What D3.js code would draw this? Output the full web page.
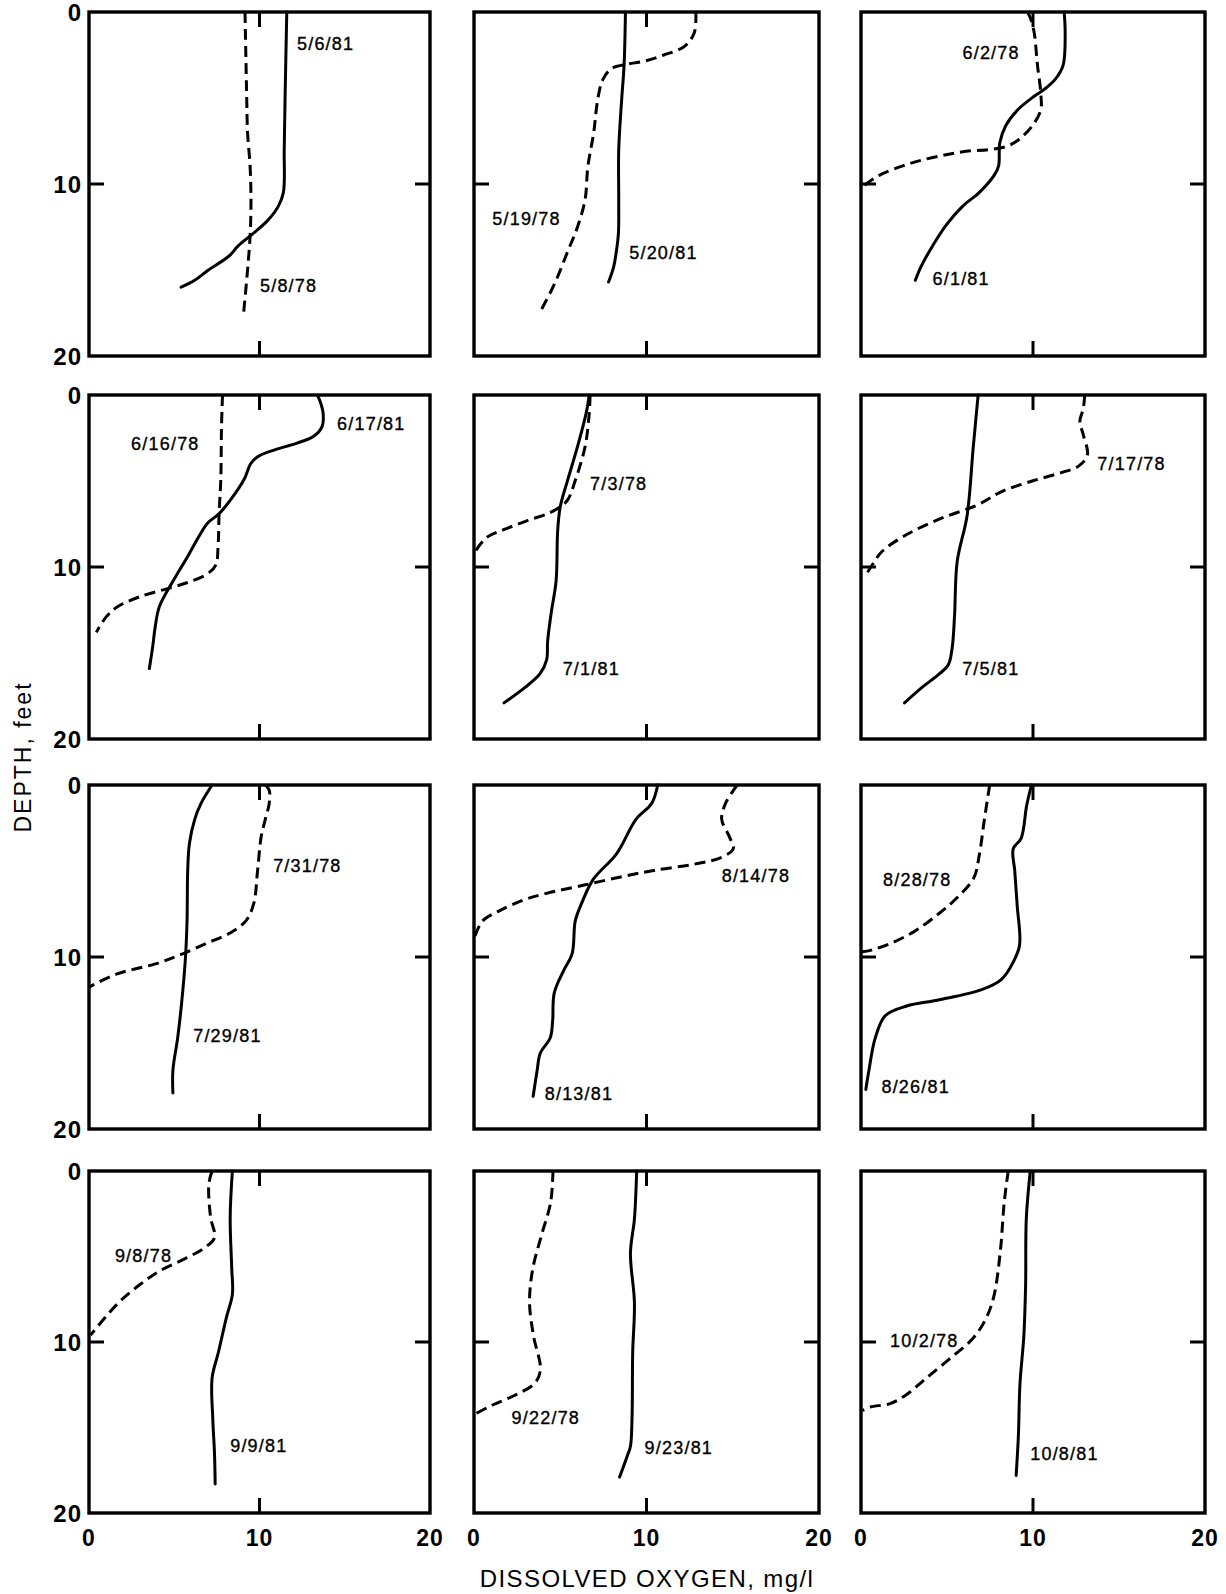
<!DOCTYPE html>
<html>
<head>
<meta charset="utf-8">
<script src="https://cdn.jsdelivr.net/npm/d3@7"></script>
<style>
  html, body { margin: 0; padding: 0; background: #fff; }
  svg { display: block; }
  text { font-family: "Liberation Sans", Arial, Helvetica, sans-serif; fill: #000; }
</style>
</head>
<body>
<svg id="chart" width="1226" height="1594"></svg>
<script>
// ---------------- DATA ----------------
const oxygenTicks = [0, 10, 20];   // mg/l
const depthTicks = [0, 10, 20];    // feet

// Panel order: row by row, left to right
const solidDates = ["5/6/81", "5/20/81", "6/1/81", "6/17/81", "7/1/81", "7/5/81",
                    "7/29/81", "8/13/81", "8/26/81", "9/9/81", "9/23/81", "10/8/81"];
const dashedDates = ["5/8/78", "5/19/78", "6/2/78", "6/16/78", "7/3/78", "7/17/78",
                     "7/31/78", "8/14/78", "8/28/78", "9/8/78", "9/22/78", "10/2/78"];

// profiles: [dissolved oxygen mg/l, depth ft]
const solidProfiles = [
  [[11.6,0],[11.5,5],[11.45,8],[11.4,10.5],[11.1,11.3],[10.5,12.1],[9.6,12.9],[8.75,13.6],[8.2,14.2],[7.0,15.0],[6.2,15.6],[5.4,16.0]],
  [[8.78,0],[8.7,3.1],[8.56,5.1],[8.39,8],[8.39,10.9],[8.37,12.9],[8.24,14.0],[8.1,14.8],[7.8,15.7]],
  [[11.81,0],[11.87,1.2],[11.75,3.1],[11.3,3.9],[10.65,4.5],[10.07,4.9],[9.1,5.7],[8.42,6.6],[8.07,7.6],[8.0,8.95],[7.74,9.5],[6.87,10.5],[5.9,11.3],[4.94,12.4],[4.16,13.6],[3.49,14.8],[3.16,15.6]],
  [[13.38,0],[13.53,0.3],[13.73,1.06],[13.67,1.84],[13.18,2.4],[12.2,2.8],[10.85,3.2],[9.87,3.6],[9.48,4.0],[9.1,4.9],[8.3,6.1],[7.63,6.9],[6.95,7.45],[6.46,8.2],[5.78,9.4],[5.0,10.7],[4.13,12.3],[3.88,13.5],[3.74,14.6],[3.54,15.9]],
  [[6.68,0],[6.5,1.07],[6.0,3.0],[5.43,4.95],[5.0,6.5],[4.85,7.9],[4.76,10.8],[4.47,12.7],[4.27,14.3],[4.21,15.4],[3.83,16.2],[2.96,17.0],[1.74,17.9]],
  [[6.81,0],[6.52,3.1],[6.17,7.0],[5.59,9.7],[5.44,12.8],[5.3,14.7],[5.07,15.7],[4.57,16.2],[3.55,17.0],[2.53,17.9]],
  [[7.22,0],[6.57,1.07],[6.2,2.0],[5.89,3.4],[5.79,4.95],[5.75,7.9],[5.66,10.0],[5.43,12.7],[5.2,14.7],[4.92,16.6],[4.92,17.9]],
  [[10.65,0],[10.3,1.07],[9.39,2.0],[8.26,4.0],[6.9,5.5],[6.23,6.9],[5.87,7.9],[5.69,9.8],[5.19,10.8],[4.65,12.1],[4.56,13.7],[4.42,14.7],[3.84,15.6],[3.66,16.6],[3.43,18.1]],
  [[9.91,0],[9.63,1.2],[9.31,3.1],[8.85,3.7],[8.94,5.0],[9.08,7.0],[9.22,9.3],[8.85,10.3],[8.17,11.3],[7.02,11.9],[4.5,12.5],[2.66,12.85],[1.42,13.4],[0.83,14.7],[0.46,16.6],[0.28,17.7]],
  [[8.41,0],[8.28,2.7],[8.37,5.66],[8.41,7.2],[8.05,8.6],[7.59,10.6],[7.22,12.1],[7.26,14.5],[7.36,16.5],[7.4,18.3]],
  [[9.43,0],[9.3,2.8],[9.07,4.8],[9.3,7.7],[9.2,10.6],[9.16,14.5],[9.07,16.1],[8.89,16.65],[8.44,17.9]],
  [[9.84,0],[9.61,2.8],[9.57,6.7],[9.47,9.6],[9.24,12.5],[9.15,15.5],[9.02,17.8]]
];
const dashedProfiles = [
  [[9.15,0],[9.25,5],[9.3,7],[9.45,9],[9.5,11],[9.45,13],[9.3,15],[9.05,17.7]],
  [[12.86,0],[12.77,1.2],[12.2,2.0],[11.0,2.5],[9.9,2.85],[8.8,3.05],[7.95,3.3],[7.46,3.95],[7.17,5.1],[6.94,7.0],[6.6,9.0],[6.44,10.9],[6.0,12.5],[5.44,13.9],[4.67,15.8],[3.8,17.5]],
  [[9.68,0],[9.87,0.4],[10.07,1.2],[10.26,3.1],[10.45,4.7],[10.45,5.7],[9.97,6.6],[9.2,7.4],[8.52,7.8],[7.45,8.0],[6.1,8.1],[4.94,8.3],[3.58,8.6],[2.42,8.95],[1.06,9.5],[0.19,10.1],[0,10.3]],
  [[7.83,0],[7.77,1.9],[7.73,4.9],[7.63,6.9],[7.57,8.8],[7.44,9.87],[6.95,10.4],[5.78,10.9],[4.81,11.2],[3.06,11.7],[1.69,12.3],[1.01,12.9],[0.43,13.8]],
  [[6.73,0],[6.68,1.07],[6.44,3.0],[5.86,5.0],[5.43,6.1],[5.0,6.5],[4.27,6.9],[3.1,7.3],[1.8,7.8],[0.78,8.25],[0.12,9.03],[0,9.3]],
  [[13.01,0],[12.92,0.8],[12.72,1.55],[12.92,2.3],[13.16,3.5],[12.63,4.15],[11.7,4.5],[9.96,5.0],[8.21,5.6],[6.75,6.4],[4.72,7.15],[2.68,8.1],[1.22,9.1],[0.64,9.9],[0.2,10.6]],
  [[10.34,0],[10.57,0.3],[10.57,1.07],[10.34,2.0],[10.1,3.0],[9.89,4.95],[9.66,6.9],[9.2,7.9],[8.28,8.6],[6.9,9.2],[5.29,9.9],[3.9,10.4],[1.6,11.0],[0,11.75]],
  [[15.26,0],[14.58,1.07],[14.36,2.0],[14.8,3.0],[15.03,3.7],[14.36,4.2],[12.78,4.6],[10.52,4.95],[8.71,5.3],[6.46,5.8],[4.2,6.3],[2.84,6.7],[1.49,7.3],[0.5,7.9],[0.05,8.8]],
  [[7.48,0],[7.16,2.1],[6.88,4.06],[6.56,5.4],[5.64,6.5],[4.5,7.5],[3.12,8.5],[1.74,9.2],[0.6,9.6],[0.05,9.7]],
  [[7.22,0],[7.03,0.75],[7.13,2.7],[7.36,3.9],[6.76,4.5],[5.75,5.07],[4.14,5.85],[2.99,6.64],[1.84,7.6],[0.92,8.6],[0.09,9.6]],
  [[4.58,0],[4.44,1.85],[3.9,3.8],[3.4,5.75],[3.22,7.7],[3.45,9.64],[3.85,11.6],[3.54,12.4],[2.4,13.1],[1.04,13.7],[0.09,14.2]],
  [[8.56,0],[8.33,1.8],[8.1,4.7],[7.73,7.3],[7.28,8.6],[6.5,9.8],[5.13,11.0],[3.75,12.15],[2.61,13.1],[1.69,13.6],[0.55,13.8],[0.09,14.0]]
];

// label anchors in data units: [oxygen at text start, depth at text middle]
const solidLabelAt = [[12.2,1.85],[9.0,14.0],[4.16,15.5],[14.55,1.65],[5.14,15.9],[5.88,15.9],
                      [6.11,14.56],[4.1,17.96],[1.19,17.5],[8.28,16.07],[9.89,16.16],[9.84,16.5]];
const dashedLabelAt = [[10.03,15.9],[1.06,12.0],[5.9,2.36],[2.47,2.8],[6.73,5.15],[13.74,3.96],
                       [10.8,4.66],[14.36,5.24],[1.28,5.5],[1.52,4.97],[2.18,14.41],[1.69,9.9]];

const xAxisTitle = "DISSOLVED OXYGEN, mg/l";
const yAxisTitle = "DEPTH, feet";

// ---------------- LAYOUT ----------------
const colX = [[89, 430], [474, 819], [861, 1205]];
const rowY = [[12, 356], [395, 739], [785, 1129], [1171, 1513]];
const tickLen = 15;

const svg = d3.select("#chart");

const lineGen = (x, y) => d3.line()
  .x(d => x(d[0]))
  .y(d => y(d[1]))
  .curve(d3.curveCatmullRom.alpha(0.5));

for (let i = 0; i < 12; i++) {
  const r = Math.floor(i / 3), c = i % 3;
  const x = d3.scaleLinear().domain([oxygenTicks[0], oxygenTicks[2]]).range(colX[c]);
  const y = d3.scaleLinear().domain([depthTicks[0], depthTicks[2]]).range(rowY[r]);
  const g = svg.append("g");

  // curves
  g.append("path")
    .attr("d", lineGen(x, y)(dashedProfiles[i]))
    .attr("fill", "none").attr("stroke", "#000").attr("stroke-width", 3)
    .attr("stroke-dasharray", "11,6").attr("stroke-linecap", "butt");
  g.append("path")
    .attr("d", lineGen(x, y)(solidProfiles[i]))
    .attr("fill", "none").attr("stroke", "#000").attr("stroke-width", 3)
    .attr("stroke-linejoin", "round").attr("stroke-linecap", "round");

  // frame
  g.append("rect")
    .attr("x", x(0)).attr("y", y(0))
    .attr("width", x(20) - x(0)).attr("height", y(20) - y(0))
    .attr("fill", "none").attr("stroke", "#000").attr("stroke-width", 3.4);

  // inward ticks at the middle value
  const midX = x(oxygenTicks[1]), midY = y(depthTicks[1]);
  const ticks = [
    [x(0), midY, x(0) + tickLen, midY],
    [x(20), midY, x(20) - tickLen, midY],
    [midX, y(0), midX, y(0) + tickLen],
    [midX, y(20), midX, y(20) - tickLen]
  ];
  g.selectAll("line.tick").data(ticks).join("line")
    .attr("x1", d => d[0]).attr("y1", d => d[1])
    .attr("x2", d => d[2]).attr("y2", d => d[3])
    .attr("stroke", "#000").attr("stroke-width", 3);

  // curve labels
  const lab = [[solidDates[i], solidLabelAt[i]], [dashedDates[i], dashedLabelAt[i]]];
  g.selectAll("text.lab").data(lab).join("text")
    .attr("x", d => x(d[1][0]))
    .attr("y", d => y(d[1][1]) + 6.5)
    .attr("font-size", 18)
    .attr("letter-spacing", 1.2)
    .attr("stroke", "#000").attr("stroke-width", 0.35)
    .text(d => d[0]);

  // depth tick labels (left column)
  if (c === 0) {
    g.selectAll("text.dt").data(depthTicks).join("text")
      .attr("x", x(0) - 7)
      .attr("y", d => y(d) + 8.5)
      .attr("text-anchor", "end")
      .attr("font-size", 24).attr("font-weight", "bold")
      .attr("letter-spacing", 1)
      .text(d => d);
  }
  // oxygen tick labels (bottom row)
  if (r === 3) {
    g.selectAll("text.ot").data(oxygenTicks).join("text")
      .attr("x", d => x(d))
      .attr("y", y(20) + 33)
      .attr("text-anchor", "middle")
      .attr("font-size", 23).attr("font-weight", "bold")
      .attr("letter-spacing", 1)
      .text(d => d);
  }
}

// axis titles
svg.append("text")
  .attr("x", 647).attr("y", 1587)
  .attr("text-anchor", "middle")
  .attr("font-size", 24)
  .attr("letter-spacing", 1.4)
  .text(xAxisTitle);

svg.append("text")
  .attr("transform", "translate(31,757) rotate(-90)")
  .attr("text-anchor", "middle")
  .attr("font-size", 23)
  .attr("letter-spacing", 2)
  .text(yAxisTitle);
</script>
</body>
</html>
